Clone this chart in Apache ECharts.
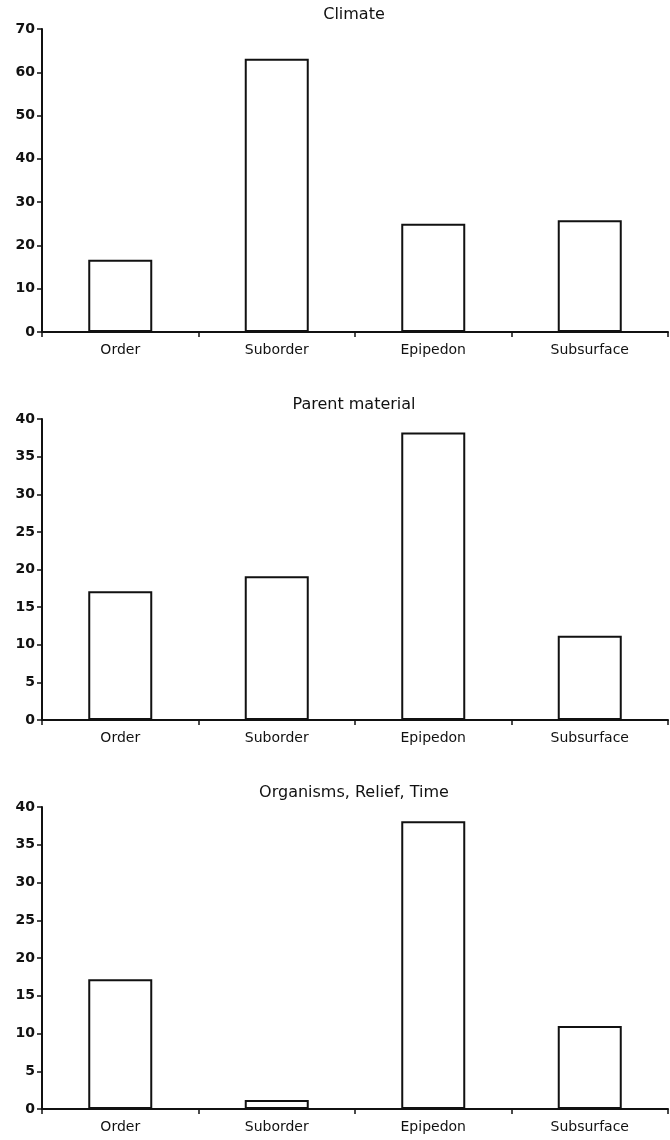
<!DOCTYPE html>
<html>
<head>
<meta charset="utf-8">
<script src="https://cdn.jsdelivr.net/npm/echarts@6/dist/echarts.min.js"></script>
<style>
html,body{margin:0;padding:0;background:#fff;}
#chart{width:670px;height:1140px;}
</style>
</head>
<body>
<div id="chart"></div>
<script>
const categories = ["Order", "Suborder", "Epipedon", "Subsurface"];
const titles = ["Climate", "Parent material", "Organisms, Relief, Time"];
const climate = [16.7, 63.1, 25.0, 25.8];
const parentMaterial = [17.1, 19.1, 38.2, 11.2];
const organismsReliefTime = [17.2, 1.2, 38.1, 11.0];
const yMax = [70, 40, 40];
const yInterval = [10, 5, 5];

const seriesData = [climate, parentMaterial, organismsReliefTime];
const grids = [
  {left: 42, right: 2, top: 29, height: 303},
  {left: 42, right: 2, top: 419, height: 301},
  {left: 42, right: 2, top: 807, height: 302}
];
const titleTops = [7, 397, 785];

const font = "DejaVu Sans";
const option = {
  animation: false,
  backgroundColor: "#fff",
  title: titles.map((t, i) => ({
    text: t,
    left: 354,
    textAlign: "center",
    top: titleTops[i],
    padding: 0,
    textStyle: {fontFamily: font, fontSize: 16, fontWeight: "normal", color: "#111"}
  })),
  grid: grids,
  xAxis: grids.map((g, i) => ({
    type: "category",
    gridIndex: i,
    data: categories,
    boundaryGap: true,
    axisLine: {lineStyle: {color: "#111", width: 2}},
    axisTick: {show: true, interval: 0, length: 5, lineStyle: {color: "#111", width: 1.5}},
    axisLabel: {fontFamily: font, fontSize: 14, color: "#111", margin: 11}
  })),
  yAxis: grids.map((g, i) => ({
    type: "value",
    gridIndex: i,
    min: 0,
    max: yMax[i],
    interval: yInterval[i],
    splitLine: {show: false},
    axisLine: {show: true, lineStyle: {color: "#111", width: 2}},
    axisTick: {show: true, length: 5, lineStyle: {color: "#111", width: 1.5}},
    axisLabel: {fontFamily: font, fontSize: 14, fontWeight: "bold", color: "#111", margin: 7}
  })),
  series: seriesData.map((d, i) => ({
    type: "bar",
    xAxisIndex: i,
    yAxisIndex: i,
    data: d,
    barWidth: 64,
    itemStyle: {color: "#fff", borderColor: "#111", borderWidth: 2}
  }))
};
const chart = echarts.init(document.getElementById("chart"), null, {renderer: "canvas"});
chart.setOption(option);
</script>
</body>
</html>
